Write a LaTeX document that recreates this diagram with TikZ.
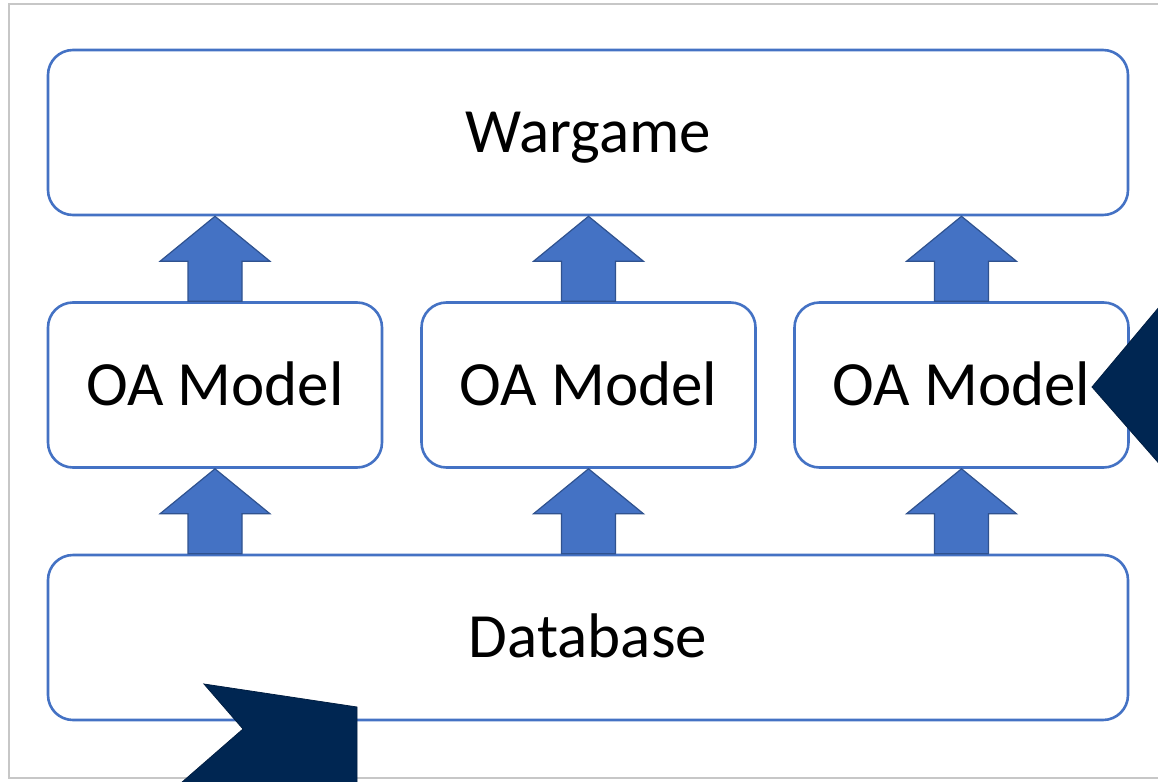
\documentclass[tikz,border=0pt]{standalone}
\usepackage{fontspec}
\setmainfont{Carlito}
\usetikzlibrary{calc}
\definecolor{boxblue}{HTML}{4472C4}
\definecolor{arrowedge}{HTML}{2F528F}
\definecolor{navy}{HTML}{002652}
\tikzset{
  panel/.style={draw=boxblue, line width=2.6pt, rounded corners=25pt, fill=white,
    inner sep=0pt, font=\fontsize{63}{63}\selectfont, text=black,
    text height=40pt, text depth=0pt},
  wide/.style={panel, minimum width=1080pt, minimum height=165pt},
  small/.style={panel, minimum width=334pt, minimum height=165pt},
  blockarrow/.style={fill=boxblue, draw=arrowedge, line width=1.2pt, line join=miter},
  darkshape/.style={fill=navy, draw=navy!80!black, line width=0.8pt},
  frame/.style={draw=black!22, line width=2pt}
}
% #1 = lower node (arrow start), #2 = upper node (arrow tip), #3 = node giving the column
\newcommand\blockup[3]{%
  \draw[blockarrow] let \p1=(#3.north |- #2.south), \p2=(#3.north |- #1.north) in
    (\x1,\y1) -- (\x1+55pt,\y1-45pt) -- (\x1+27pt,\y1-45pt) -- (\x1+27pt,\y2)
    -- (\x1-27pt,\y2) -- (\x1-27pt,\y1-45pt) -- (\x1-55pt,\y1-45pt) -- cycle;}
\begin{document}
\begin{tikzpicture}[x=1pt,y=-1pt]
\useasboundingbox (0,0) rectangle (1158,781);
\clip (0,0) rectangle (1158,781);
\draw[frame] (1170,4) -- (9,4) -- (9,778) -- (1170,778);
\node[wide] (war) at (588,132.5) {Wargame};
\node[small] (m1) at (215,385) {OA Model};
\node[small] (m2) at (588.5,385) {OA Model};
\node[small] (m3) at (961.5,385) {OA Model};
\node[wide] (db) at (588,637.5) {Database};
\blockup{m1}{war}{m1}
\blockup{m2}{war}{m2}
\blockup{m3}{war}{m3}
\blockup{db}{m1}{m1}
\blockup{db}{m2}{m2}
\blockup{db}{m3}{m3}
\fill[darkshape] (1170,294) -- (1092,387) -- (1170,476) -- cycle;
\fill[darkshape] (204,684) -- (357,707) -- (357,790) -- (173,790) -- (243,729) -- cycle;
\end{tikzpicture}
\end{document}
